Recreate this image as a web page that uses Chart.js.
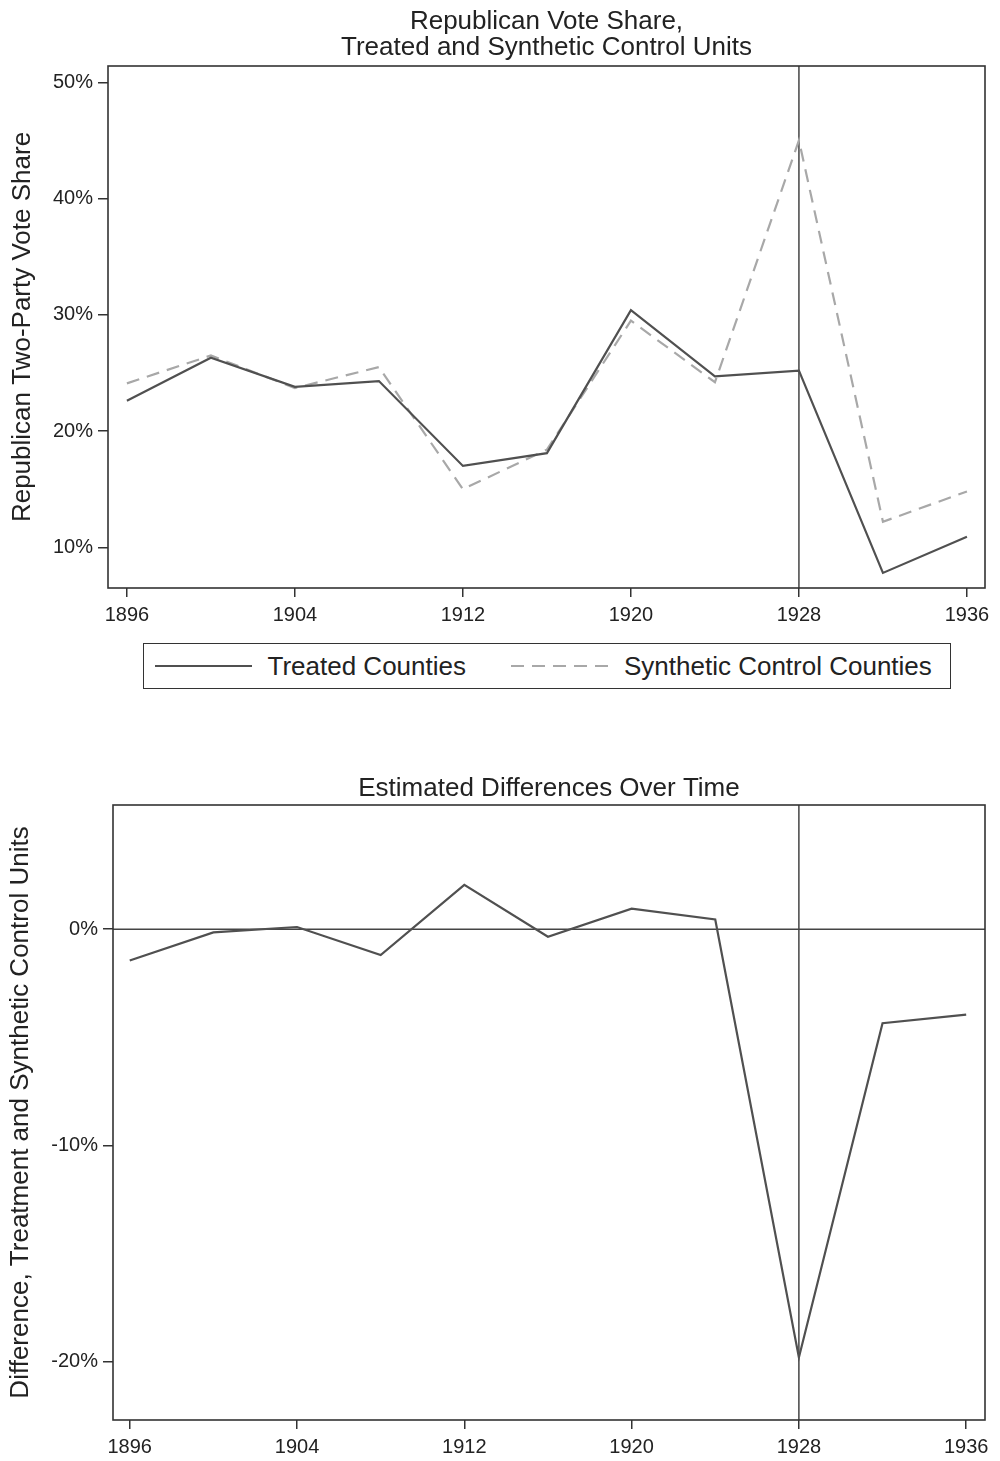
<!DOCTYPE html>
<html><head><meta charset="utf-8">
<script src="https://cdn.jsdelivr.net/npm/chart.js@4"></script>
<style>
html,body{margin:0;padding:0;background:#fff;}
#top{position:absolute;left:0;top:0;width:1000px;height:630px;}
#bot{position:absolute;left:0;top:730px;width:1000px;height:731px;}
#legend{position:absolute;left:143px;top:643px;width:806px;height:44px;border:1.5px solid #333;
  display:flex;align-items:center;font-family:'Liberation Sans',Arial,sans-serif;font-size:26px;color:#222;box-sizing:content-box;}
#legend .item{display:flex;align-items:center;}
#legend svg{display:block;}
#legend span{white-space:nowrap;}
</style></head><body>
<div id="top"><canvas id="c1"></canvas></div>
<div id="legend"></div>
<div id="bot"><canvas id="c2"></canvas></div>
<script>
// ---- data ----
const years = [1896,1900,1904,1908,1912,1916,1920,1924,1928,1932,1936];
const treated = [22.6,26.3,23.8,24.3,17.0,18.1,30.4,24.7,25.2,7.8,10.9];
const synthetic = [24.1,26.5,23.7,25.5,15.0,18.4,29.5,24.2,45.0,12.2,14.8];
const difference = [-1.45,-0.15,0.1,-1.2,2.05,-0.35,0.95,0.45,-19.8,-4.35,-3.95];
const seriesNames = ['Treated Counties','Synthetic Control Counties'];
const xTickYears = [1896,1904,1912,1920,1928,1936];
const topYTicks = [10,20,30,40,50];
const botYTicks = [-20,-10,0];
const treatmentYear = 1928;

const FONT = "'Liberation Sans', Arial, sans-serif";
Chart.defaults.font.family = FONT;
Chart.defaults.color = '#222';
Chart.defaults.animation = false;

const pts = arr => years.map((yr,i)=>({x:yr,y:arr[i]}));

const framePlugin = {
  id:'frame',
  beforeDatasetsDraw(chart, args, opts){
    const {ctx, chartArea:a, scales:{x,y}} = chart;
    ctx.save();
    ctx.strokeStyle='#444'; ctx.lineWidth=1.5;
    const vx = x.getPixelForValue(treatmentYear);
    ctx.beginPath(); ctx.moveTo(vx,a.top); ctx.lineTo(vx,a.bottom); ctx.stroke();
    if (opts.zeroLine){
      const zy = y.getPixelForValue(0);
      ctx.beginPath(); ctx.moveTo(a.left,zy); ctx.lineTo(a.right,zy); ctx.stroke();
    }
    ctx.restore();
  },
  afterDraw(chart){
    const {ctx, chartArea:a} = chart;
    ctx.save();
    ctx.strokeStyle='#333'; ctx.lineWidth=1.6;
    ctx.strokeRect(a.left,a.top,a.right-a.left,a.bottom-a.top);
    ctx.restore();
  }
};

function xScale(min,max,h){
  return {
    type:'linear', min:min, max:max,
    afterBuildTicks: s => { s.ticks = xTickYears.map(v=>({value:v})); },
    afterFit: s => { s.height = h; },
    ticks:{font:{size:20}, padding:6, autoSkip:false, maxRotation:0, callback:v=>String(v), color:'#222'},
    grid:{drawOnChartArea:false, drawTicks:true, tickLength:9, color:'#333', lineWidth:1.5},
    border:{display:false}
  };
}
function yScale(min,max,ticks,w,title,tpad){
  return {
    min:min, max:max,
    afterBuildTicks: s => { s.ticks = ticks.map(v=>({value:v})); },
    afterFit: s => { s.width = w; },
    ticks:{font:{size:20}, padding:5, callback:v=>v+'%', color:'#222'},
    grid:{drawOnChartArea:false, drawTicks:true, tickLength:10, color:'#333', lineWidth:1.5},
    border:{display:false},
    title:{display:true, text:title, font:{size:26, lineHeight:1.0}, color:'#222', padding:{top:tpad,bottom:0}}
  };
}

const topDatasets = [
  {label:seriesNames[0], data:pts(treated), borderColor:'#505050', borderWidth:2.2, borderDash:[], pointRadius:0, tension:0, fill:false},
  {label:seriesNames[1], data:pts(synthetic), borderColor:'#a8a8a8', borderWidth:2.2, borderDash:[13,8], pointRadius:0, tension:0, fill:false}
];

new Chart(document.getElementById('c1'), {
  type:'line',
  data:{datasets:topDatasets},
  options:{
    responsive:true, maintainAspectRatio:false,
    layout:{padding:{left:0,right:15,top:0,bottom:0}},
    plugins:{
      title:{display:true, fullSize:false, text:['Republican Vote Share,','Treated and Synthetic Control Units'], font:{size:26, weight:'normal', lineHeight:1.0}, color:'#222', padding:{top:9,bottom:5}},
      legend:{display:false},
      tooltip:{enabled:false},
      frame:{zeroLine:false}
    },
    scales:{
      x: xScale(1895.1,1936.86,42),
      y: yScale(6.5,51.4,topYTicks,108,'Republican Two-Party Vote Share',10)
    }
  },
  plugins:[framePlugin]
});

// HTML legend built from the dataset definitions
(function(){
  const lg = document.getElementById('legend');
  const gaps = [10.5, 45];
  topDatasets.forEach((ds,i)=>{
    const item = document.createElement('div');
    item.className='item';
    item.style.marginLeft = gaps[i]+'px';
    const dash = ds.borderDash.length ? ds.borderDash.join(' ') : 'none';
    item.innerHTML = '<svg width="97" height="6"><line x1="0" y1="3" x2="97" y2="3" stroke="'+ds.borderColor+'" stroke-width="2.2" stroke-dasharray="'+dash+'"/></svg>';
    const sp = document.createElement('span');
    sp.textContent = ds.label;
    sp.style.marginLeft = '16px';
    item.appendChild(sp);
    lg.appendChild(item);
  });
})();

new Chart(document.getElementById('c2'), {
  type:'line',
  data:{datasets:[
    {label:'Difference', data:pts(difference), borderColor:'#505050', borderWidth:2.2, pointRadius:0, tension:0, fill:false}
  ]},
  options:{
    responsive:true, maintainAspectRatio:false,
    layout:{padding:{left:0,right:15,top:0,bottom:0}},
    plugins:{
      title:{display:true, fullSize:false, text:'Estimated Differences Over Time', font:{size:26, weight:'normal', lineHeight:1.0}, color:'#222', padding:{top:46,bottom:3}},
      legend:{display:false},
      tooltip:{enabled:false},
      frame:{zeroLine:true}
    },
    scales:{
      x: xScale(1895.2,1936.9,41),
      y: yScale(-22.69,5.74,botYTicks,113,'Difference, Treatment and Synthetic Control Units',8)
    }
  },
  plugins:[framePlugin]
});
</script>
</body></html>
